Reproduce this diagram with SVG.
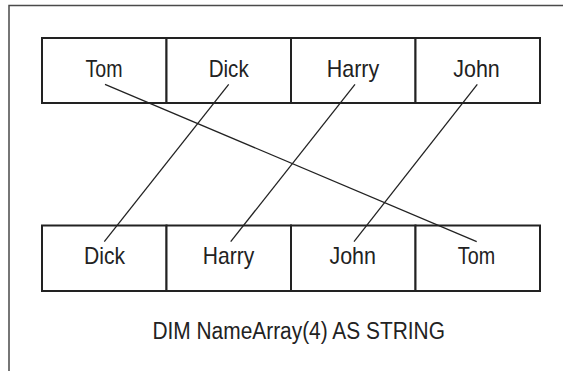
<svg xmlns="http://www.w3.org/2000/svg" width="563" height="371" viewBox="0 0 563 371">
<style>
.frame{fill:none;stroke:#4a4a4a;stroke-width:1.5}
.cell{fill:#fff;stroke:#222;stroke-width:2}
.lbl{font-family:"Liberation Sans",Arial,sans-serif;font-size:24px;fill:#222;text-anchor:middle}
.cap{font-family:"Liberation Sans",Arial,sans-serif;font-size:23px;fill:#222;text-anchor:middle}
.conn{stroke:#222;stroke-width:1.3;fill:none}
</style>
<rect width="563" height="371" fill="#fff"/>
<path class="frame" d="M9,372 V5.5 H564"/>
<g id="top-array">
<g id="top-0"><rect class="cell" x="42" y="38" width="124.5" height="65"/><text class="lbl" x="104" y="76.7" textLength="37" lengthAdjust="spacingAndGlyphs">Tom</text></g>
<g id="top-1"><rect class="cell" x="166.5" y="38" width="124.5" height="65"/><text class="lbl" x="228.7" y="76.7" textLength="40" lengthAdjust="spacingAndGlyphs">Dick</text></g>
<g id="top-2"><rect class="cell" x="291" y="38" width="124.5" height="65"/><text class="lbl" x="353" y="76.7" textLength="52.5" lengthAdjust="spacingAndGlyphs">Harry</text></g>
<g id="top-3"><rect class="cell" x="415.5" y="38" width="124.5" height="65"/><text class="lbl" x="476.5" y="76.7" textLength="46.5" lengthAdjust="spacingAndGlyphs">John</text></g>
</g>
<g id="bottom-array">
<g id="bottom-0"><rect class="cell" x="42" y="225.5" width="124.5" height="65.5"/><text class="lbl" x="104.5" y="264.3" textLength="41" lengthAdjust="spacingAndGlyphs">Dick</text></g>
<g id="bottom-1"><rect class="cell" x="166.5" y="225.5" width="124.5" height="65.5"/><text class="lbl" x="228.5" y="264.3" textLength="51.5" lengthAdjust="spacingAndGlyphs">Harry</text></g>
<g id="bottom-2"><rect class="cell" x="291" y="225.5" width="124.5" height="65.5"/><text class="lbl" x="352.7" y="264.3" textLength="46.5" lengthAdjust="spacingAndGlyphs">John</text></g>
<g id="bottom-3"><rect class="cell" x="415.5" y="225.5" width="124.5" height="65.5"/><text class="lbl" x="476.5" y="264.3" textLength="37.3" lengthAdjust="spacingAndGlyphs">Tom</text></g>
</g>
<g id="connectors">
<line class="conn" x1="105" y1="84.3" x2="476.7" y2="241.7"/>
<line class="conn" x1="228.7" y1="84.3" x2="104.3" y2="241.7"/>
<line class="conn" x1="355" y1="84.3" x2="230.7" y2="241.7"/>
<line class="conn" x1="477.3" y1="84.3" x2="354" y2="241.7"/>
</g>
<text id="caption" class="cap" x="298.7" y="339.3" textLength="292.5" lengthAdjust="spacingAndGlyphs">DIM NameArray(4) AS STRING</text>
</svg>
